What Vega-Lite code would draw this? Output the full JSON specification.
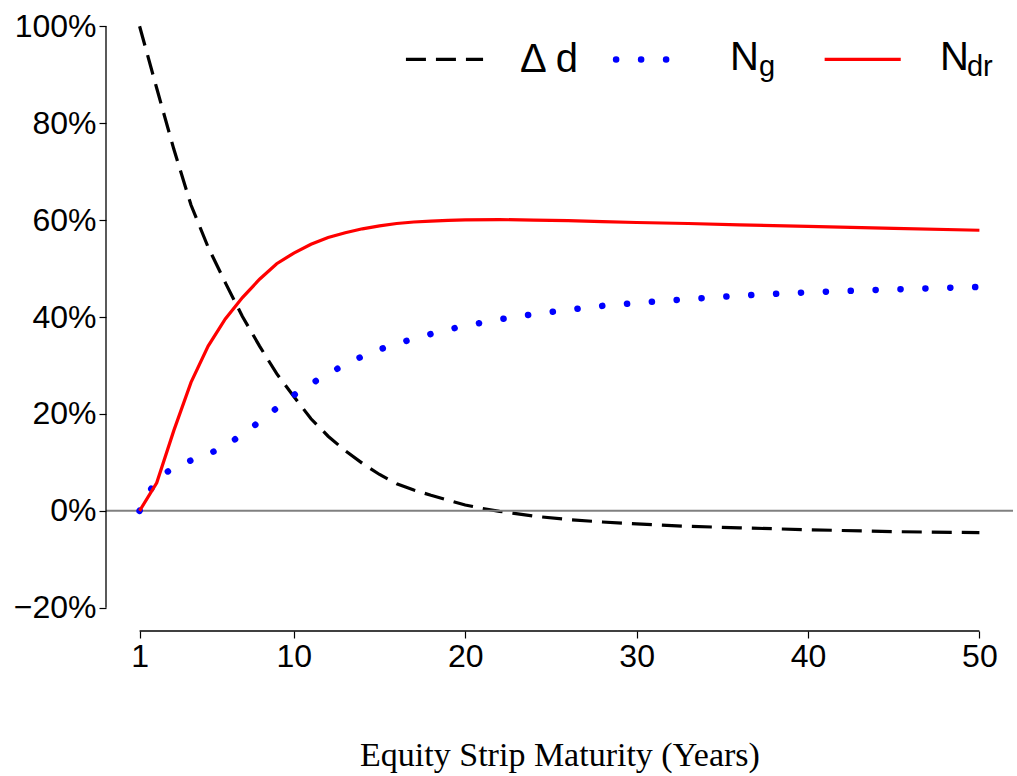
{
  "$schema": "https://vega.github.io/schema/vega-lite/v6.json",
  "width": 907,
  "height": 628,
  "autosize": {"type": "none"},
  "padding": {"left": 106, "top": 3, "right": 4, "bottom": 145},
  "background": "white",
  "config": {"view": {"stroke": null}},
  "data": {
    "values": [
      {"t": 1, "s": "dd", "v": 100}, {"t": 2, "s": "dd", "v": 87.2}, {"t": 3, "s": "dd", "v": 74.6}, {"t": 4, "s": "dd", "v": 63.1},
      {"t": 5, "s": "dd", "v": 54.4}, {"t": 6, "s": "dd", "v": 47.1}, {"t": 7, "s": "dd", "v": 40.1}, {"t": 8, "s": "dd", "v": 34.0},
      {"t": 9, "s": "dd", "v": 28.3}, {"t": 10, "s": "dd", "v": 23.6}, {"t": 11, "s": "dd", "v": 19.0}, {"t": 12, "s": "dd", "v": 15.4},
      {"t": 13, "s": "dd", "v": 12.4}, {"t": 14, "s": "dd", "v": 9.8}, {"t": 15, "s": "dd", "v": 7.5}, {"t": 16, "s": "dd", "v": 5.6},
      {"t": 17, "s": "dd", "v": 4.3}, {"t": 18, "s": "dd", "v": 3.2}, {"t": 19, "s": "dd", "v": 2.2}, {"t": 20, "s": "dd", "v": 1.2},
      {"t": 21, "s": "dd", "v": 0.5}, {"t": 22, "s": "dd", "v": -0.1}, {"t": 24, "s": "dd", "v": -1.1}, {"t": 26, "s": "dd", "v": -1.8},
      {"t": 28, "s": "dd", "v": -2.3}, {"t": 30, "s": "dd", "v": -2.7}, {"t": 33, "s": "dd", "v": -3.2}, {"t": 36, "s": "dd", "v": -3.5},
      {"t": 40, "s": "dd", "v": -3.9}, {"t": 45, "s": "dd", "v": -4.3}, {"t": 50, "s": "dd", "v": -4.5},

      {"t": 1, "s": "ng", "v": 0}, {"t": 2, "s": "ng", "v": 6.7}, {"t": 3, "s": "ng", "v": 8.9}, {"t": 4, "s": "ng", "v": 10.4},
      {"t": 5, "s": "ng", "v": 11.7}, {"t": 6, "s": "ng", "v": 13.4}, {"t": 7, "s": "ng", "v": 15.8}, {"t": 8, "s": "ng", "v": 18.4},
      {"t": 9, "s": "ng", "v": 21.2}, {"t": 10, "s": "ng", "v": 23.9}, {"t": 11, "s": "ng", "v": 26.2}, {"t": 12, "s": "ng", "v": 28.3},
      {"t": 13, "s": "ng", "v": 30.2}, {"t": 14, "s": "ng", "v": 31.9}, {"t": 15, "s": "ng", "v": 33.3}, {"t": 16, "s": "ng", "v": 34.5},
      {"t": 17, "s": "ng", "v": 35.5}, {"t": 18, "s": "ng", "v": 36.5}, {"t": 19, "s": "ng", "v": 37.4}, {"t": 20, "s": "ng", "v": 38.2},
      {"t": 22, "s": "ng", "v": 39.5}, {"t": 24, "s": "ng", "v": 40.6}, {"t": 26, "s": "ng", "v": 41.5}, {"t": 28, "s": "ng", "v": 42.3},
      {"t": 30, "s": "ng", "v": 42.9}, {"t": 33, "s": "ng", "v": 43.7}, {"t": 36, "s": "ng", "v": 44.4}, {"t": 40, "s": "ng", "v": 45.1},
      {"t": 45, "s": "ng", "v": 45.7}, {"t": 50, "s": "ng", "v": 46.2},

      {"t": 1, "s": "ndr", "v": 0}, {"t": 2, "s": "ndr", "v": 5.8}, {"t": 3, "s": "ndr", "v": 16.6}, {"t": 4, "s": "ndr", "v": 26.5},
      {"t": 5, "s": "ndr", "v": 34.0}, {"t": 6, "s": "ndr", "v": 39.6}, {"t": 7, "s": "ndr", "v": 44.0}, {"t": 8, "s": "ndr", "v": 47.8},
      {"t": 9, "s": "ndr", "v": 51.0}, {"t": 10, "s": "ndr", "v": 53.2}, {"t": 11, "s": "ndr", "v": 55.0}, {"t": 12, "s": "ndr", "v": 56.4},
      {"t": 13, "s": "ndr", "v": 57.4}, {"t": 14, "s": "ndr", "v": 58.2}, {"t": 15, "s": "ndr", "v": 58.8}, {"t": 16, "s": "ndr", "v": 59.3},
      {"t": 17, "s": "ndr", "v": 59.6}, {"t": 18, "s": "ndr", "v": 59.8}, {"t": 19, "s": "ndr", "v": 59.95}, {"t": 20, "s": "ndr", "v": 60.05},
      {"t": 22, "s": "ndr", "v": 60.1}, {"t": 24, "s": "ndr", "v": 60.0}, {"t": 26, "s": "ndr", "v": 59.9}, {"t": 28, "s": "ndr", "v": 59.7},
      {"t": 30, "s": "ndr", "v": 59.5}, {"t": 33, "s": "ndr", "v": 59.3}, {"t": 36, "s": "ndr", "v": 59.0}, {"t": 40, "s": "ndr", "v": 58.7},
      {"t": 45, "s": "ndr", "v": 58.3}, {"t": 50, "s": "ndr", "v": 57.9}
    ]
  },
  "layer": [
    {
      "transform": [{"filter": "datum.s === 'dd'"}],
      "mark": {"type": "line", "color": "black", "strokeWidth": 3.2, "strokeDash": [20, 10]},
      "encoding": {
        "x": {"field": "t", "type": "quantitative", "scale": {"domain": [-0.96, 51.96], "nice": false, "zero": false},
          "axis": {"values": [1, 10, 20, 30, 40, 50], "domain": false, "grid": false, "ticks": true, "tickSize": 7, "tickWidth": 1.2, "tickColor": "black",
            "labelFont": "Liberation Sans", "labelFontSize": 32, "labelColor": "black", "labelPadding": 3, "labelFlush": false, "labelOverlap": false,
            "title": "Equity Strip Maturity (Years)", "titleFont": "Liberation Serif", "titleFontSize": 34, "titleFontWeight": "normal", "titleColor": "black", "titlePadding": 66}},
        "y": {"field": "v", "type": "quantitative", "scale": {"domain": [-24.8, 104.8], "nice": false, "zero": false},
          "axis": {"values": [-20, 0, 20, 40, 60, 80, 100], "domain": false, "grid": false, "ticks": true, "tickSize": 7, "tickWidth": 1.2, "tickColor": "black",
            "labelExpr": "datum.value < 0 ? '\u2212' + abs(datum.value) + '%' : datum.value + '%'",
            "labelFont": "Liberation Sans", "labelFontSize": 32, "labelColor": "black", "labelPadding": 3, "title": null}}
      }
    },
    {
      "data": {"values": [{}]},
      "mark": {"type": "rule", "color": "#808080", "strokeWidth": 2},
      "encoding": {
        "y": {"datum": 0, "type": "quantitative", "scale": {"domain": [-24.8, 104.8], "nice": false, "zero": false}}
      }
    },
    {
      "data": {"values": [{}]},
      "mark": {"type": "rule", "color": "black", "strokeWidth": 1.3},
      "encoding": {
        "x": {"datum": 1, "type": "quantitative", "scale": {"domain": [-0.96, 51.96], "nice": false, "zero": false}},
        "x2": {"datum": 50},
        "y": {"datum": -24.8, "type": "quantitative", "scale": {"domain": [-24.8, 104.8], "nice": false, "zero": false}}
      }
    },
    {
      "data": {"values": [{}]},
      "mark": {"type": "rule", "color": "black", "strokeWidth": 1.3},
      "encoding": {
        "x": {"datum": -0.96, "type": "quantitative", "scale": {"domain": [-0.96, 51.96], "nice": false, "zero": false}},
        "y": {"datum": -20, "type": "quantitative", "scale": {"domain": [-24.8, 104.8], "nice": false, "zero": false}},
        "y2": {"datum": 100}
      }
    },
    {
      "transform": [{"filter": "datum.s === 'ng'"}],
      "mark": {"type": "line", "color": "#0000ff", "strokeWidth": 6.5, "strokeDash": [0.1, 24.8], "strokeCap": "round"},
      "encoding": {
        "x": {"field": "t", "type": "quantitative", "scale": {"domain": [-0.96, 51.96], "nice": false, "zero": false}},
        "y": {"field": "v", "type": "quantitative", "scale": {"domain": [-24.8, 104.8], "nice": false, "zero": false}}
      }
    },
    {
      "transform": [{"filter": "datum.s === 'ndr'"}],
      "mark": {"type": "line", "color": "#ff0000", "strokeWidth": 3.2},
      "encoding": {
        "x": {"field": "t", "type": "quantitative", "scale": {"domain": [-0.96, 51.96], "nice": false, "zero": false}},
        "y": {"field": "v", "type": "quantitative", "scale": {"domain": [-24.8, 104.8], "nice": false, "zero": false}}
      }
    },
    {
      "data": {"values": [{}]},
      "mark": {"type": "rule", "color": "black", "strokeWidth": 3.2, "strokeDash": [20, 10]},
      "encoding": {
        "x": {"datum": 16.54, "type": "quantitative", "scale": {"domain": [-0.96, 51.96], "nice": false, "zero": false}},
        "x2": {"datum": 21.04},
        "y": {"datum": 93.15, "type": "quantitative", "scale": {"domain": [-24.8, 104.8], "nice": false, "zero": false}}
      }
    },
    {
      "data": {"values": [{}]},
      "mark": {"type": "rule", "color": "#0000ff", "strokeWidth": 6.5, "strokeDash": [0.1, 24.9], "strokeCap": "round"},
      "encoding": {
        "x": {"datum": 28.8, "type": "quantitative", "scale": {"domain": [-0.96, 51.96], "nice": false, "zero": false}},
        "x2": {"datum": 31.75},
        "y": {"datum": 93.15, "type": "quantitative", "scale": {"domain": [-24.8, 104.8], "nice": false, "zero": false}}
      }
    },
    {
      "data": {"values": [{}]},
      "mark": {"type": "rule", "color": "#ff0000", "strokeWidth": 3.2},
      "encoding": {
        "x": {"datum": 40.97, "type": "quantitative", "scale": {"domain": [-0.96, 51.96], "nice": false, "zero": false}},
        "x2": {"datum": 45.41},
        "y": {"datum": 93.15, "type": "quantitative", "scale": {"domain": [-24.8, 104.8], "nice": false, "zero": false}}
      }
    },
    {
      "data": {"values": [{}]},
      "mark": {"type": "text", "text": "\u0394 d", "align": "left", "baseline": "alphabetic", "font": "Liberation Sans", "fontSize": 40, "color": "black"},
      "encoding": {
        "x": {"datum": 23.2, "type": "quantitative", "scale": {"domain": [-0.96, 51.96], "nice": false, "zero": false}},
        "y": {"datum": 90.6, "type": "quantitative", "scale": {"domain": [-24.8, 104.8], "nice": false, "zero": false}}
      }
    },
    {
      "data": {"values": [{}]},
      "mark": {"type": "text", "text": "N", "align": "left", "baseline": "alphabetic", "font": "Liberation Sans", "fontSize": 40, "color": "black"},
      "encoding": {
        "x": {"datum": 35.45, "type": "quantitative", "scale": {"domain": [-0.96, 51.96], "nice": false, "zero": false}},
        "y": {"datum": 91.0, "type": "quantitative", "scale": {"domain": [-24.8, 104.8], "nice": false, "zero": false}}
      }
    },
    {
      "data": {"values": [{}]},
      "mark": {"type": "text", "text": "g", "align": "left", "baseline": "alphabetic", "font": "Liberation Sans", "fontSize": 29, "color": "black"},
      "encoding": {
        "x": {"datum": 37.14, "type": "quantitative", "scale": {"domain": [-0.96, 51.96], "nice": false, "zero": false}},
        "y": {"datum": 89.74, "type": "quantitative", "scale": {"domain": [-24.8, 104.8], "nice": false, "zero": false}}
      }
    },
    {
      "data": {"values": [{}]},
      "mark": {"type": "text", "text": "N", "align": "left", "baseline": "alphabetic", "font": "Liberation Sans", "fontSize": 40, "color": "black"},
      "encoding": {
        "x": {"datum": 47.7, "type": "quantitative", "scale": {"domain": [-0.96, 51.96], "nice": false, "zero": false}},
        "y": {"datum": 91.0, "type": "quantitative", "scale": {"domain": [-24.8, 104.8], "nice": false, "zero": false}}
      }
    },
    {
      "data": {"values": [{}]},
      "mark": {"type": "text", "text": "dr", "align": "left", "baseline": "alphabetic", "font": "Liberation Sans", "fontSize": 29, "color": "black"},
      "encoding": {
        "x": {"datum": 49.27, "type": "quantitative", "scale": {"domain": [-0.96, 51.96], "nice": false, "zero": false}},
        "y": {"datum": 89.74, "type": "quantitative", "scale": {"domain": [-24.8, 104.8], "nice": false, "zero": false}}
      }
    }
  ]
}
